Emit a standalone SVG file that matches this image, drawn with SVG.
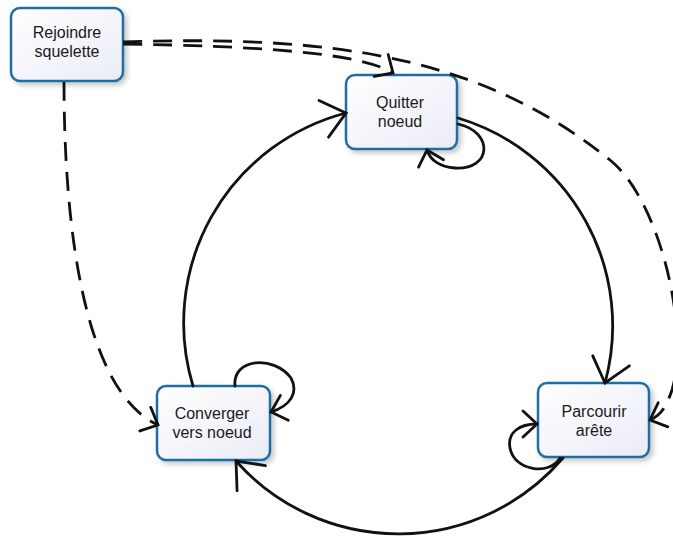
<svg xmlns="http://www.w3.org/2000/svg" width="673" height="539" viewBox="0 0 673 539">
<style>
.box{fill:url(#boxfill);stroke:#1d6ea3;stroke-width:2.5;filter:url(#shadow)}
.lbl{font-family:"Liberation Sans","Open Sans",sans-serif;font-size:16px;fill:#1a1a1a;text-anchor:middle}
.solid{fill:none;stroke:#111;stroke-width:2.8;stroke-linecap:round}
.dash{fill:none;stroke:#111;stroke-width:2.8;stroke-dasharray:19 11}
.big{marker-end:url(#arrowBig)}
.small{marker-end:url(#arrowSmall)}
.ah{fill:none;stroke:#111;stroke-width:2.8;stroke-linecap:round;stroke-linejoin:miter;stroke-dasharray:none}
</style>
<defs>
<linearGradient id="boxfill" x1="0" y1="0" x2="1" y2="1">
<stop offset="0" stop-color="#ffffff"/>
<stop offset="1" stop-color="#ebebf7"/>
</linearGradient>
<filter id="shadow" x="-20%" y="-20%" width="150%" height="150%">
<feDropShadow dx="3" dy="3" stdDeviation="2.5" flood-color="#000" flood-opacity="0.22"/>
</filter>
<marker id="arrowBig" markerUnits="userSpaceOnUse" markerWidth="60" markerHeight="60" refX="0" refY="0" orient="auto" overflow="visible">
<path class="ah" d="M-23,-19 L0,0 L-23,19"/>
</marker>
<marker id="arrowSmall" markerUnits="userSpaceOnUse" markerWidth="40" markerHeight="40" refX="0" refY="0" orient="auto" overflow="visible">
<path class="ah" d="M-14,-13 L0,0 L-14,13"/>
</marker>
</defs>
<rect width="673" height="539" fill="#ffffff"/>

<g id="node-rejoindre">
<rect class="box" x="11" y="8" width="112" height="73" rx="9"/>
<text class="lbl" x="67" y="38">Rejoindre</text>
<text class="lbl" x="67" y="57">squelette</text>
</g>
<g id="node-quitter">
<rect class="box" x="346" y="75" width="111" height="74" rx="9"/>
<text class="lbl" x="400" y="108">Quitter</text>
<text class="lbl" x="400" y="127">noeud</text>
</g>
<g id="node-converger">
<rect class="box" x="157" y="386" width="113" height="74" rx="9"/>
<text class="lbl" x="212" y="419">Converger</text>
<text class="lbl" x="212" y="438">vers noeud</text>
</g>
<g id="node-parcourir">
<rect class="box" x="538" y="383" width="111" height="74" rx="9"/>
<text class="lbl" x="594" y="417">Parcourir</text>
<text class="lbl" x="594" y="436">arête</text>
</g>

<g id="connectors">
<path class="solid big" d="M458,118 A217,217 0 0 1 605,383"/>
<path class="solid big" d="M563,458 A217,217 0 0 1 236,461"/>
<path class="solid big" d="M193,386 A217,217 0 0 1 346,113"/>
<path class="solid small" d="M458,124 C494,132 492,170 455,168 C440,167 430,160 427,150"/>
<path class="solid small" d="M235,386 C232,358 274,355 291,378 C299,393 290,406 271,412"/>
<path class="solid small" d="M560,458 C550,476 514,471 510,448 C507,432 520,424 537,424"/>
<path class="dash small" d="M64,82 C64,220 82,390 158,425"/>
<path class="dash small" d="M123,44 C250,46 360,52 393,73"/>
<path class="dash small" d="M123,42 C330,35 480,55 610,160 C660,200 690,330 672,390 C666,408 660,416 650,420"/>
</g>
</svg>
